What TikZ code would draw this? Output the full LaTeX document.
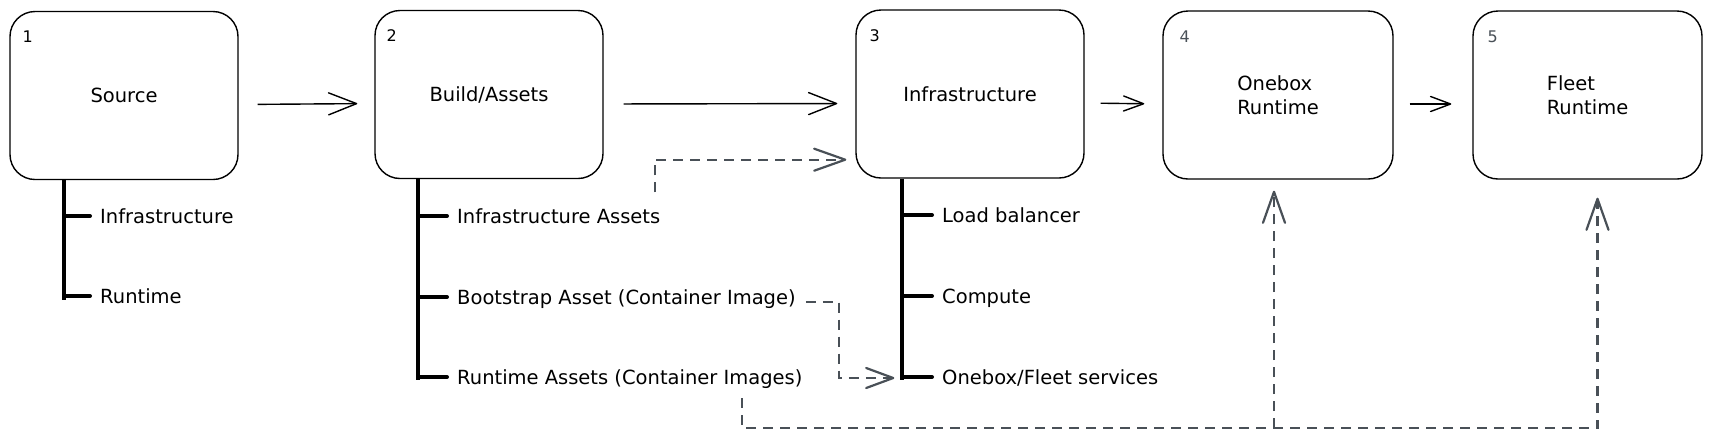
\documentclass[tikz,border=0pt]{standalone}
\usepackage{fontspec}
\setmainfont{DejaVu Sans}
\usetikzlibrary{arrows.meta,calc}
\definecolor{dgray}{RGB}{73,80,87}
\begin{document}
\begin{tikzpicture}[x=1pt,y=-1pt,
  box/.style={draw, line width=1.4pt, rounded corners=25pt, minimum width=228pt, minimum height=168pt, inner sep=0pt, font=\fontsize{19.5}{24}\selectfont, align=left},
  num/.style={anchor=base west, inner sep=0pt, font=\fontsize{16}{18}\selectfont},
  item/.style={anchor=west, inner sep=0pt, text height=15pt, text depth=0pt, font=\fontsize{19.5}{24}\selectfont},
  trunk/.style={line width=4pt},
  tickln/.style={line width=4pt, line cap=round},
  longarr/.style={line width=1.4pt, -{Straight Barb[length=28pt,width=22pt,round]}},
  shortarr/.style={line width=1.4pt, -{Straight Barb[length=20pt,width=15pt,round]}},
  dasharr/.style={line width=2.2pt, dgray, dash pattern=on 10pt off 7pt, -{Straight Barb[length=31pt,width=22pt,round]}},
  dasharrs/.style={line width=2.2pt, dgray, dash pattern=on 10pt off 7pt, -{Straight Barb[length=27pt,width=20pt,round]}}
]
\useasboundingbox (0,0) rectangle (1711,440);

% boxes
\node[box] (b1) at (124,95.5) {Source};
\node[box] (b2) at (489,94.5) {Build/Assets};
\node[box] (b3) at (970,94) {Infrastructure};
\node[box, minimum width=230pt] (b4) at (1278,95) {Onebox\\Runtime};
\node[box, minimum width=229pt] (b5) at (1587.5,95) {Fleet\\Runtime};

% step numbers
\node[num] (n1) at ([xshift=13pt,yshift=-32pt]b1.north west) {1};
\node[num] (n2) at ([xshift=12pt,yshift=-32pt]b2.north west) {2};
\node[num] (n3) at ([xshift=14pt,yshift=-32pt]b3.north west) {3};
\node[num, text=dgray] (n4) at ([xshift=17pt,yshift=-32pt]b4.north west) {4};
\node[num, text=dgray] (n5) at ([xshift=15pt,yshift=-32pt]b5.north west) {5};

% main arrows
\draw[longarr, shorten <=19pt, shorten >=17pt] ([yshift=-9pt]b1.east) -- ([yshift=-9pt]b2.west);
\draw[longarr, shorten <=20pt, shorten >=18pt] ([yshift=-9.5pt]b2.east) -- ([yshift=-9.5pt]b3.west);
\draw[shortarr, shorten <=16pt, shorten >=18pt] ([yshift=-9pt]b3.east) -- ([yshift=-9pt]b4.west);
\draw[shortarr, shorten <=16pt, shorten >=21pt] ([yshift=-9pt]b4.east) -- ([yshift=-9pt]b5.west);

% items of box 1
\node[item] (a1) at (100,216) {Infrastructure};
\node[item] (a2) at (100,296) {Runtime};
\coordinate (r1) at ([xshift=55pt]b1.south west);
\draw[trunk] (r1) -- ([yshift=-4pt]r1 |- a2.west);
\draw[tickln] (r1 |- a1.west) -- ([xshift=-10pt]a1.west);
\draw[tickln] (r1 |- a2.west) -- ([xshift=-10pt]a2.west);

% items of box 2
\node[item] (c1) at (457,216) {Infrastructure Assets};
\node[item] (c2) at (457,297) {Bootstrap Asset (Container Image)};
\node[item] (c3) at (457,377) {Runtime Assets (Container Images)};
\coordinate (r2) at ([xshift=44pt]b2.south west);
\draw[trunk] (r2) -- ([yshift=-3pt]r2 |- c3.west);
\draw[tickln] (r2 |- c1.west) -- ([xshift=-10pt]c1.west);
\draw[tickln] (r2 |- c2.west) -- ([xshift=-10pt]c2.west);
\draw[tickln] (r2 |- c3.west) -- ([xshift=-10pt]c3.west);

% items of box 3
\node[item] (d1) at (942,215) {Load balancer};
\node[item] (d2) at (942,296) {Compute};
\node[item] (d3) at (942,377) {Onebox/Fleet services};
\coordinate (r3) at ([xshift=47pt]b3.south west);
\draw[trunk] (r3) -- ([yshift=-3pt]r3 |- d3.west);
\draw[tickln] (r3 |- d1.west) -- ([xshift=-10pt]d1.west);
\draw[tickln] (r3 |- d2.west) -- ([xshift=-10pt]d2.west);
\draw[tickln] (r3 |- d3.west) -- ([xshift=-10pt]d3.west);

% dashed connectors
\draw[dasharr] ([xshift=198pt,yshift=16pt]c1.north west) |- ($(b3.south west)+(-9,-19)$);
\coordinate (e3) at ([xshift=-8pt,yshift=-1pt]r3 |- d3.west);
\draw[dasharrs] ([xshift=10pt,yshift=-5pt]c2.east) -| ($(e3)+(-55,0)$) -- (e3);
\draw[dasharr] ([xshift=285pt,yshift=-13.5pt]c3.south west) -- ++(0,30) coordinate (j) -| ([xshift=10pt,yshift=-18pt]b5.south);
\draw[dasharr] ([xshift=-4pt]j -| b4.south) -- ([xshift=-4pt,yshift=-11pt]b4.south);
\end{tikzpicture}
\end{document}
